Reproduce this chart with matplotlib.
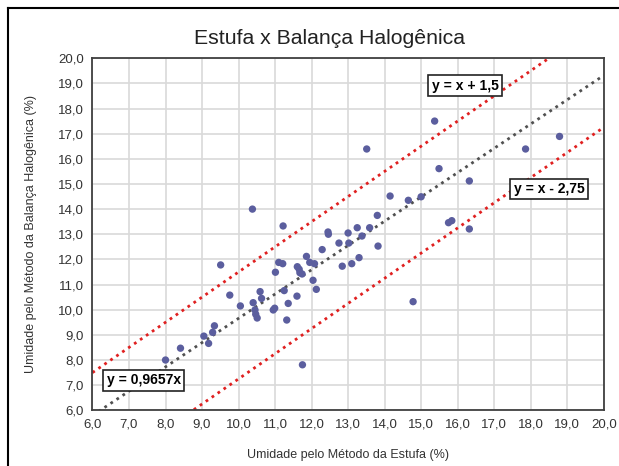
import matplotlib
matplotlib.use("Agg")
import matplotlib.pyplot as plt
from matplotlib.lines import Line2D
from matplotlib.ticker import MultipleLocator, FuncFormatter
import numpy as np

# dados (umidade %)
estufa = [8.0, 8.41, 9.05, 9.18, 9.29, 9.34, 9.51, 9.76, 10.05, 10.38,
          10.40, 10.45, 10.47, 10.51, 10.59, 10.63, 10.95, 10.99, 11.01, 11.10,
          11.21, 11.22, 11.25, 11.32, 11.36, 11.60, 11.61, 11.66, 11.68, 11.74,
          11.75, 11.86, 11.95, 12.04, 12.08, 12.13, 12.29, 12.45, 12.46, 12.75,
          12.84, 13.00, 13.02, 13.10, 13.25, 13.30, 13.38, 13.51, 13.59, 13.80,
          13.82, 14.15, 14.65, 14.78, 15.00, 15.37, 15.49, 15.75, 15.84, 16.32,
          16.32, 17.86, 18.79]
halogenica = [8.0, 8.47, 8.95, 8.66, 9.10, 9.36, 11.78, 10.58, 10.15, 14.0,
              10.28, 9.99, 9.82, 9.67, 10.72, 10.45, 9.99, 10.06, 11.49, 11.88,
              11.83, 13.33, 10.76, 9.59, 10.25, 10.54, 11.71, 11.61, 11.47, 11.42,
              7.81, 12.12, 11.88, 11.17, 11.83, 10.81, 12.39, 13.09, 13.00, 12.65,
              11.73, 13.05, 12.65, 11.83, 13.26, 12.07, 12.93, 16.39, 13.26, 13.75,
              12.53, 14.52, 14.35, 10.32, 14.49, 17.50, 15.61, 13.46, 13.54, 15.12,
              13.21, 16.39, 16.89]

coef_ajuste = 0.9657
limite_sup = 1.5
limite_inf = -2.75

plt.rcParams['font.family'] = ['Liberation Sans', 'DejaVu Sans']

fig = plt.figure(figsize=(6.19, 4.66), dpi=100)
ax = fig.add_axes([0.1494, 0.1195, 0.9753 - 0.1494, 0.8751 - 0.1195])

x_lin = np.linspace(6, 20, 200)
ax.plot(x_lin, coef_ajuste * x_lin, color='#505050', linestyle=(0, (1, 1.6)),
        linewidth=2, zorder=2)
ax.plot(x_lin, x_lin + limite_sup, color='#E02020', linestyle=(0, (1, 1.6)),
        linewidth=2, zorder=2)
ax.plot(x_lin, x_lin + limite_inf, color='#E02020', linestyle=(0, (1, 1.6)),
        linewidth=2, zorder=2)

ax.scatter(estufa, halogenica, s=28, color='#5B5E9E', edgecolors='none', zorder=3)

ax.set_xlim(6, 20)
ax.set_ylim(6, 20)
ax.xaxis.set_major_locator(MultipleLocator(1))
ax.yaxis.set_major_locator(MultipleLocator(1))
fmt = FuncFormatter(lambda v, p: f"{v:.1f}".replace('.', ','))
ax.xaxis.set_major_formatter(fmt)
ax.yaxis.set_major_formatter(fmt)
ax.tick_params(length=0, labelsize=9.5, colors='#333333', pad=6)
ax.grid(True, color='#D9D9D9', linewidth=1.2, zorder=0)
ax.set_axisbelow(True)
for s in ax.spines.values():
    s.set_color('#404040')
    s.set_linewidth(1.3)

fig.text(329 / 619, 1 - 38 / 466, 'Estufa x Balança Halogênica', fontsize=15.3,
         color='#222222', ha='center', va='center')
ax.set_xlabel('Umidade pelo Método da Estufa (%)', fontsize=9, color='#333333', labelpad=13)
ax.set_ylabel('Umidade pelo Método da Balança Halogênica (%)', fontsize=9,
              color='#333333', labelpad=15)

caixa = dict(boxstyle='square,pad=0.25', facecolor='white', edgecolor='#222222', linewidth=1.2)
ax.text(16.2, 18.9, 'y = x + 1,5', fontsize=10, fontweight='bold', ha='center',
        va='center', bbox=caixa, zorder=5)
ax.text(18.5, 14.8, 'y = x - 2,75', fontsize=10, fontweight='bold', ha='center',
        va='center', bbox=caixa, zorder=5)
ax.text(7.4, 7.2, 'y = 0,9657x', fontsize=10, fontweight='bold', ha='center',
        va='center', bbox=caixa, zorder=5)

# moldura externa
fig.add_artist(Line2D([8 / 619, 8 / 619], [0, 1 - 8 / 466], transform=fig.transFigure,
                      color='black', linewidth=1.5))
fig.add_artist(Line2D([8 / 619, 1], [1 - 8 / 466, 1 - 8 / 466], transform=fig.transFigure,
                      color='black', linewidth=1.5))

fig.savefig('out.png', dpi=100)
